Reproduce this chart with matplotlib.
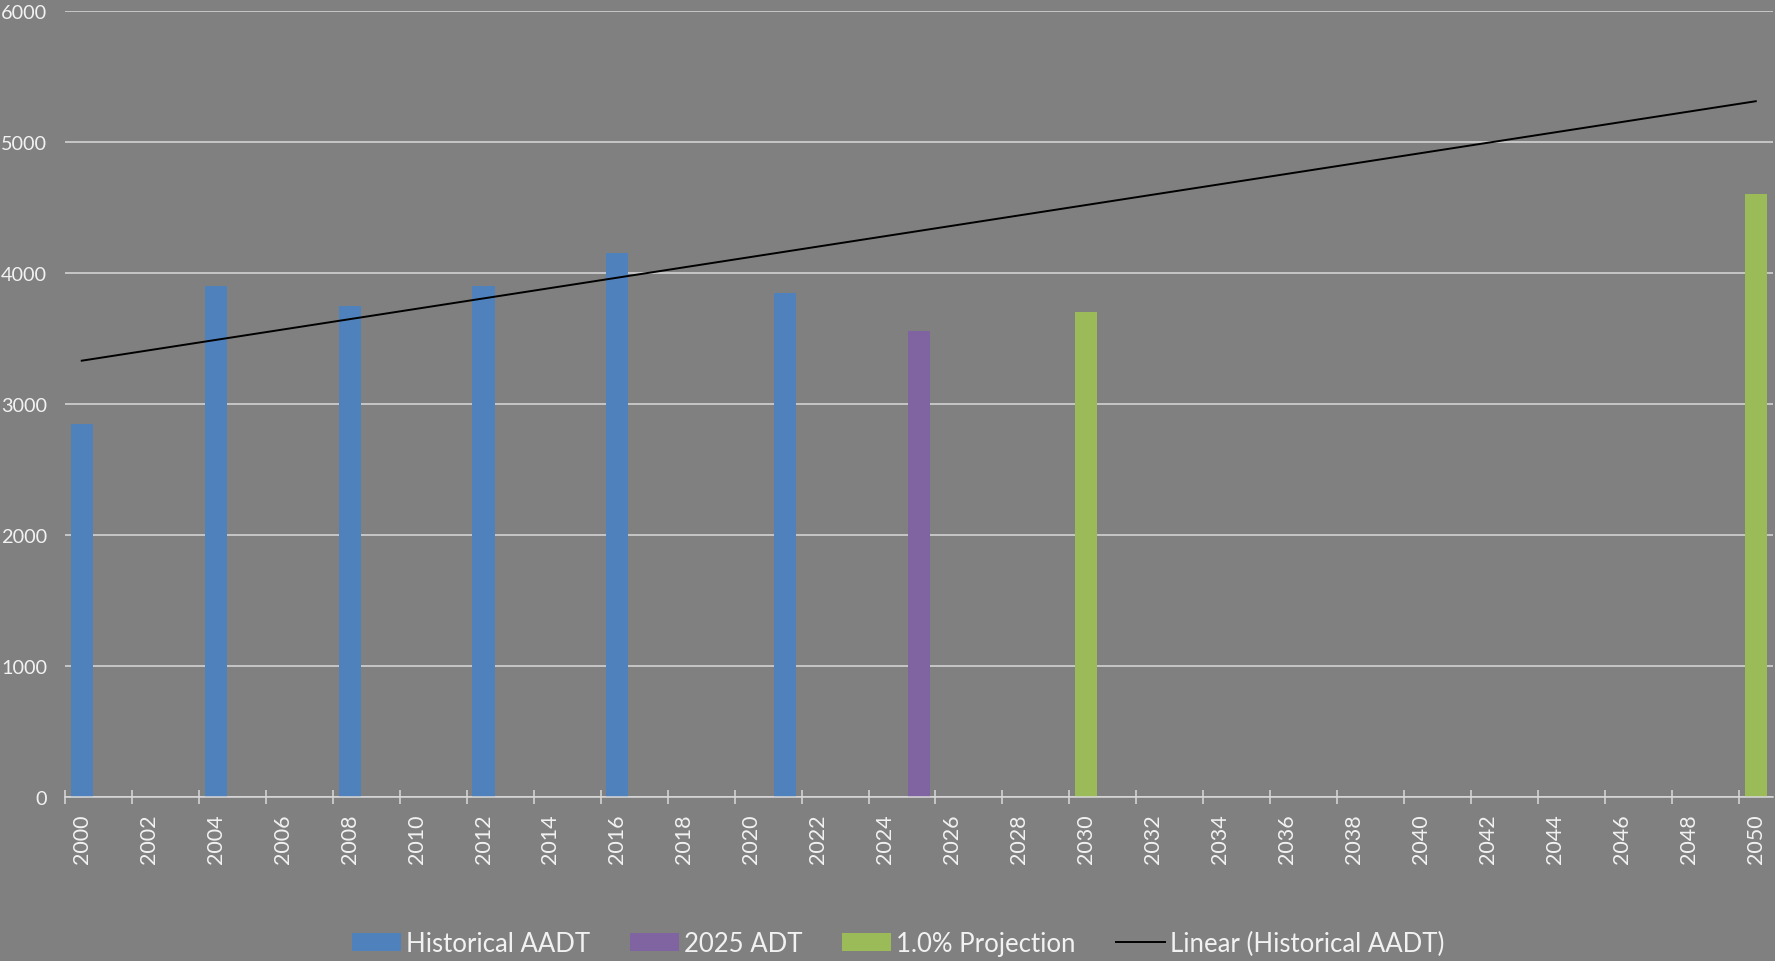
import numpy as np
import matplotlib
matplotlib.use("Agg")
import matplotlib.pyplot as plt
from matplotlib.ticker import FixedLocator

plt.rcParams['font.family'] = ['Lato', 'DejaVu Sans']

# data
years = list(range(2000, 2051))
hist_years = [2000, 2004, 2008, 2012, 2016, 2021]
hist_vals = [2850, 3900, 3750, 3900, 4150, 3850]
adt_years = [2025]
adt_vals = [3560]
proj_years = [2030, 2050]
proj_vals = [3700, 4600]
yticks = [0, 1000, 2000, 3000, 4000, 5000, 6000]
xlabels = [str(y) for y in years[::2]]

bg = '#808080'
txt = '#F2F2F2'
grid = '#D9D9D9'

fig = plt.figure(figsize=(17.75, 9.62), dpi=100, facecolor=bg)
ax = fig.add_axes([65/1775, 1-798/962, (1772.5-65)/1775, (798-12)/962])
ax.set_facecolor(bg)

w = 0.66
ax.bar(hist_years, hist_vals, width=w, color='#4F81BD', label='Historical AADT', zorder=3)
ax.bar(adt_years, adt_vals, width=w, color='#8064A2', label='2025 ADT', zorder=3)
ax.bar(proj_years, proj_vals, width=w, color='#9BBB59', label='1.0% Projection', zorder=3)

# linear trendline of the historical counts, drawn across the whole category axis
slope, icpt = np.polyfit(hist_years, hist_vals, 1)
tx = np.array([years[0], years[-1]])
ax.plot(tx, slope*tx+icpt, color='black', lw=1.4, label='Linear (Historical AADT)', zorder=4)

ax.set_xlim(years[0]-0.5, years[-1]+0.5)
ax.set_ylim(0, 6000)
ax.set_yticks(yticks)
ax.yaxis.grid(True, color=grid, lw=1.1, zorder=0)
ax.set_axisbelow(True)

ax.set_xticks(years[::2])
ax.set_xticklabels(xlabels, rotation=90)
ax.xaxis.set_minor_locator(FixedLocator([y-0.5 for y in years[::2]]))
ax.tick_params(axis='x', which='major', length=0, pad=12, labelsize=15.5, labelcolor=txt)
ax.tick_params(axis='x', which='minor', length=10, width=1.1, direction='inout', color=grid)
ax.tick_params(axis='y', length=0, pad=13, labelsize=14.3, labelcolor=txt)

for s in ['top', 'right', 'left']:
    ax.spines[s].set_visible(False)
ax.spines['bottom'].set_color(grid)
ax.spines['bottom'].set_linewidth(1.1)
ax.spines['bottom'].set_zorder(5)

h, l = ax.get_legend_handles_labels()
order = [1, 2, 3, 0]
leg = fig.legend([h[i] for i in order], [l[i] for i in order], loc='center',
                 bbox_to_anchor=(0.506, 1-944/962), ncol=4, frameon=False,
                 fontsize=18.5, handlelength=1.9, handleheight=0.7,
                 handletextpad=0.2, columnspacing=1.55)
for t in leg.get_texts():
    t.set_color(txt)

fig.savefig('out.png', dpi=100, facecolor=bg)
